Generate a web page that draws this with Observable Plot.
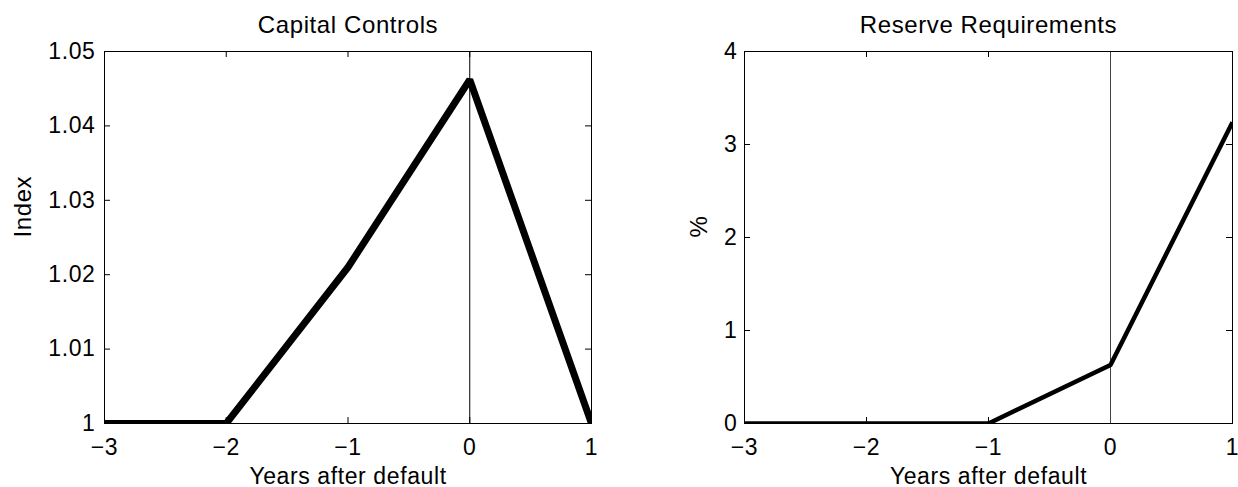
<!DOCTYPE html>
<html>
<head>
<meta charset="utf-8">
<script src="https://cdn.jsdelivr.net/npm/d3@7"></script>
<script src="https://cdn.jsdelivr.net/npm/@observablehq/plot@0.6"></script>
<style>
  html, body { margin: 0; padding: 0; background: #fff; }
  #wrap { display: flex; width: 1238px; height: 487px; }
</style>
</head>
<body>
<div id="wrap"></div>
<script>
// ---- data ----
const years = [-3, -2, -1, 0, 1];
const capitalControls = [1.0, 1.0, 1.021, 1.0462, 1.0];
const reserveRequirements = [0, 0, 0, 0.63, 3.24];

const xTicks = [-3, -2, -1, 0, 1];
const xTickLabels = ["\u22123", "\u22122", "\u22121", "0", "1"];
const ccTicks = [1.0, 1.01, 1.02, 1.03, 1.04, 1.05];
const ccTickLabels = ["1", "1.01", "1.02", "1.03", "1.04", "1.05"];
const rrTicks = [0, 1, 2, 3, 4];
const rrTickLabels = ["0", "1", "2", "3", "4"];

const titles = ["Capital Controls", "Reserve Requirements"];
const yLabels = ["Index", "%"];
const xLabel = "Years after default";

const FONT = "'Liberation Sans', Arial, Helvetica, sans-serif";

function panel(cfg) {
  const data = years.map((x, i) => ({x, y: cfg.values[i]}));
  const frameW = cfg.width - cfg.marginLeft - cfg.marginRight;
  const frameH = cfg.height - cfg.marginTop - cfg.marginBottom;
  const tick = 6;
  return Plot.plot({
    width: cfg.width,
    height: cfg.height,
    marginLeft: cfg.marginLeft,
    marginRight: cfg.marginRight,
    marginTop: cfg.marginTop,
    marginBottom: cfg.marginBottom,
    style: {fontFamily: FONT, fontSize: "23px", letterSpacing: "0.6px", color: "#000", background: "#fff", overflow: "visible"},
    x: {domain: [xTicks[0], xTicks[xTicks.length - 1]]},
    y: {domain: [cfg.yTicks[0], cfg.yTicks[cfg.yTicks.length - 1]]},
    marks: [
      Plot.axisX(xTicks, {tickSize: 0, tickPadding: 15, label: null, fontSize: 23,
        tickFormat: (d) => xTickLabels[xTicks.indexOf(d)]}),
      Plot.axisY(cfg.yTicks, {tickSize: 0, tickPadding: cfg.yPad, label: null, fontSize: 23,
        tickFormat: (d) => cfg.yTickLabels[cfg.yTicks.indexOf(d)]}),
      // inward tick marks on all four sides
      Plot.tickX(xTicks, {x: d => d, insetTop: frameH - tick, stroke: "#000", strokeWidth: 1}),
      Plot.tickX(xTicks, {x: d => d, insetBottom: frameH - tick, stroke: "#000", strokeWidth: 1}),
      Plot.tickY(cfg.yTicks, {y: d => d, insetRight: frameW - tick, stroke: "#000", strokeWidth: 1}),
      Plot.tickY(cfg.yTicks, {y: d => d, insetLeft: frameW - tick, stroke: "#000", strokeWidth: 1}),
      Plot.ruleX([0], {stroke: cfg.zeroColor, strokeWidth: 1}),
      Plot.line(data, {x: "x", y: "y", stroke: "#000", strokeWidth: cfg.lineWidth, clip: true,
        strokeLinejoin: "miter", strokeLinecap: "butt"}),
      Plot.frame({stroke: "#000", strokeWidth: 1}),
      Plot.text([cfg.title], {frameAnchor: "top", dy: -19, lineAnchor: "bottom", fontSize: 24, fill: "#000"}),
      Plot.text([xLabel], {frameAnchor: "bottom", dy: 60, lineAnchor: "bottom", fontSize: 23, fill: "#000"}),
      Plot.text([cfg.yLabel], {frameAnchor: "left", dx: cfg.yLabelDx, rotate: -90, lineAnchor: "middle", fontSize: 24, fill: "#000"})
    ]
  });
}

const wrap = document.getElementById("wrap");
wrap.append(panel({
  width: 619, height: 487, marginLeft: 104, marginRight: 28, marginTop: 51, marginBottom: 64,
  values: capitalControls, yTicks: ccTicks, yTickLabels: ccTickLabels, yPad: 9,
  title: titles[0], yLabel: yLabels[0], yLabelDx: -81, lineWidth: 7, zeroColor: "#000"
}));
wrap.append(panel({
  width: 619, height: 487, marginLeft: 125, marginRight: 6, marginTop: 51, marginBottom: 64,
  values: reserveRequirements, yTicks: rrTicks, yTickLabels: rrTickLabels, yPad: 7,
  title: titles[1], yLabel: yLabels[1], yLabelDx: -45, lineWidth: 4.5, zeroColor: "#444"
}));
</script>
</body>
</html>
